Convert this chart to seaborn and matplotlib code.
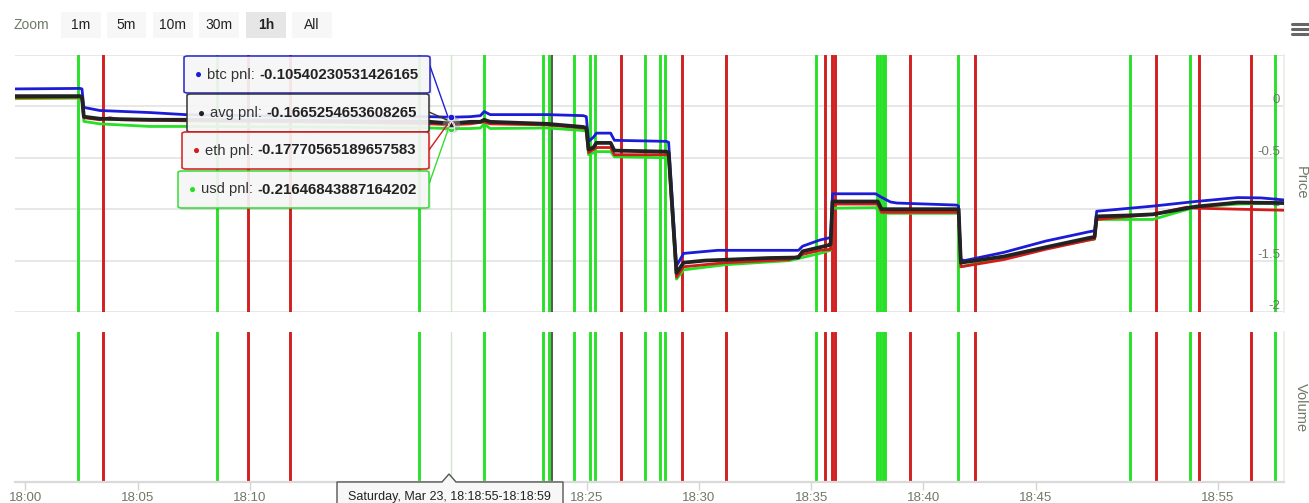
import numpy as np
import pandas as pd
import matplotlib
matplotlib.use("Agg")
import matplotlib.pyplot as plt
import matplotlib.transforms as mtransforms
from matplotlib.patches import FancyBboxPatch, Polygon, Rectangle
from matplotlib.lines import Line2D
import seaborn as sns

# ---------------- data ----------------
btc_time = ['17:59:32', '18:02:26', '18:02:31', '18:02:36', '18:03:19', '18:05:33', '18:07:07', '18:10:00',
            '18:14:28', '18:18:02', '18:18:57', '18:19:49', '18:20:16', '18:20:26', '18:20:42', '18:23:15',
            '18:24:51', '18:24:59', '18:25:05', '18:25:18', '18:25:26', '18:26:04', '18:26:14', '18:27:24',
            '18:28:33', '18:28:39', '18:29:00', '18:29:05', '18:29:19', '18:30:50', '18:34:26', '18:34:37',
            '18:35:23', '18:35:47', '18:35:52', '18:35:57', '18:37:52', '18:38:06', '18:38:32', '18:38:49',
            '18:41:29', '18:41:34', '18:41:40', '18:41:50', '18:43:35', '18:45:33', '18:47:55', '18:48:14',
            '18:48:21', '18:51:26', '18:53:47', '18:56:06', '18:57:22', '18:58:38']
btc_pnl = [0.17, 0.175, 0.17, -0.01, -0.04, -0.06, -0.08, -0.09, -0.10, -0.10, -0.10540230531426165, -0.10,
           -0.09, -0.05, -0.08, -0.08, -0.09, -0.10, -0.34, -0.30, -0.26, -0.26, -0.33, -0.335, -0.34, -0.35,
           -1.55, -1.52, -1.43, -1.40, -1.40, -1.36, -1.30, -1.28, -1.27, -0.85, -0.85, -0.88, -0.93, -0.94,
           -0.96, -0.97, -1.49, -1.50, -1.42, -1.31, -1.22, -1.21, -1.02, -0.97, -0.925, -0.887, -0.89, -0.91]

avg_time = ['17:59:32', '18:02:26', '18:02:31', '18:02:36', '18:03:19', '18:05:33', '18:07:07', '18:12:14',
            '18:18:02', '18:18:57', '18:19:49', '18:20:16', '18:20:26', '18:20:42', '18:23:15', '18:24:51',
            '18:24:59', '18:25:05', '18:25:18', '18:25:26', '18:26:04', '18:26:14', '18:28:33', '18:28:39',
            '18:29:00', '18:29:19', '18:30:15', '18:33:06', '18:34:26', '18:34:37', '18:35:47', '18:35:52',
            '18:35:57', '18:37:58', '18:38:08', '18:41:34', '18:41:40', '18:43:35', '18:45:33', '18:47:55',
            '18:48:14', '18:48:21', '18:50:13', '18:51:26', '18:53:47', '18:56:06', '18:58:38']
avg_pnl = [0.10, 0.10, 0.09, -0.10, -0.12, -0.13, -0.13, -0.14, -0.15, -0.1665254653608265, -0.15, -0.15,
           -0.13, -0.15, -0.17, -0.20, -0.21, -0.42, -0.40, -0.355, -0.355, -0.43, -0.44, -0.45, -1.62, -1.52,
           -1.50, -1.475, -1.47, -1.41, -1.35, -1.34, -0.925, -0.925, -1.0, -1.0, -1.52, -1.46, -1.37, -1.28,
           -1.27, -1.07, -1.06, -1.05, -0.975, -0.935, -0.94]

eth_time = ['17:59:32', '18:02:26', '18:02:31', '18:02:36', '18:03:19', '18:03:46', '18:04:13', '18:07:07',
            '18:12:14', '18:18:02', '18:18:57', '18:19:49', '18:20:26', '18:20:42', '18:23:15', '18:24:51',
            '18:24:59', '18:25:05', '18:25:26', '18:26:04', '18:26:14', '18:28:33', '18:28:39', '18:29:00',
            '18:29:19', '18:31:11', '18:34:02', '18:34:37', '18:35:23', '18:35:52', '18:35:57', '18:37:58',
            '18:38:08', '18:41:34', '18:41:40', '18:43:35', '18:45:33', '18:47:55', '18:48:14', '18:48:21',
            '18:51:26', '18:53:18', '18:53:47', '18:56:06', '18:58:38']
eth_pnl = [0.085, 0.09, 0.08, -0.11, -0.13, -0.11, -0.13, -0.14, -0.15, -0.17, -0.17770565189657583, -0.17,
           -0.15, -0.17, -0.18, -0.21, -0.22, -0.45, -0.40, -0.40, -0.47, -0.47, -0.48, -1.66, -1.56, -1.52,
           -1.49, -1.44, -1.40, -1.39, -0.95, -0.95, -1.03, -1.03, -1.56, -1.49, -1.39, -1.30, -1.29, -1.10,
           -1.05, -0.98, -0.99, -1.0, -1.01]

usd_time = ['17:59:32', '18:02:26', '18:02:31', '18:02:36', '18:03:19', '18:05:33', '18:07:07', '18:12:14',
            '18:18:02', '18:18:57', '18:19:49', '18:20:16', '18:20:26', '18:20:42', '18:23:15', '18:24:51',
            '18:24:59', '18:25:05', '18:25:26', '18:26:04', '18:26:14', '18:28:33', '18:28:39', '18:29:00',
            '18:29:19', '18:31:11', '18:34:02', '18:35:23', '18:35:52', '18:35:57', '18:37:52', '18:38:08',
            '18:41:34', '18:41:40', '18:43:35', '18:45:33', '18:47:55', '18:48:14', '18:48:21', '18:51:26',
            '18:52:35', '18:53:47', '18:56:06', '18:58:38']
usd_pnl = [0.075, 0.08, 0.07, -0.146, -0.17, -0.195, -0.195, -0.20, -0.21, -0.21646843887164202, -0.215, -0.21,
           -0.17, -0.215, -0.21, -0.235, -0.24, -0.47, -0.44, -0.44, -0.49, -0.50, -0.51, -1.68, -1.59, -1.54,
           -1.50, -1.43, -1.40, -0.99, -0.985, -1.04, -1.04, -1.56, -1.47, -1.38, -1.30, -1.29, -1.10, -1.10,
           -1.04, -0.98, -0.95, -0.94]

buy_signal_times = ['18:02:20', '18:08:32', '18:17:33', '18:20:26', '18:23:04', '18:23:20', '18:24:27',
                    '18:25:10', '18:25:21', '18:27:37', '18:28:17', '18:28:28', '18:35:12', '18:37:55',
                    '18:38:03', '18:38:11', '18:38:16', '18:41:32', '18:50:10', '18:53:28', '18:58:08']
sell_signal_times = ['18:03:27', '18:09:55', '18:11:47', '18:26:33', '18:29:16', '18:31:11', '18:35:36',
                     '18:35:55', '18:36:03', '18:39:23', '18:42:17', '18:51:36', '18:53:57', '18:56:49']
other_signal_times = ['18:23:26']

hover_time = '18:18:57'
hover_label = 'Saturday, Mar 23, 18:18:55-18:18:59'
series_names = ['usd', 'eth', 'btc', 'avg']
tooltip_order = ['btc', 'avg', 'eth', 'usd']

# 18:15 and 18:20 sit under the time tooltip in the reference, so they carry no visible label
xtick_times = ['18:00', '18:05', '18:10', '18:15', '18:20', '18:25', '18:30', '18:35', '18:40', '18:45', '18:55']
xtick_labels = ['18:00', '18:05', '18:10', '', '', '18:25', '18:30', '18:35', '18:40', '18:45', '18:55']
price_ticks = [-2, -1.5, -1, -0.5, 0, 0.5]
price_tick_labels = ['-2', '-1.5', '-1', '-0.5', '0', '']
zoom_buttons = ['1m', '5m', '10m', '30m', '1h', 'All']
selected_button = '1h'


def tmin(s):
    parts = [int(p) for p in s.split(':')]
    if len(parts) == 2:
        parts.append(0)
    h, m, sec = parts
    return (h - 18) * 60 + m + sec / 60.0


# ---------------- style ----------------
sns.set_theme(style="white")
plt.rcParams['font.family'] = ['Liberation Sans', 'DejaVu Sans']
plt.rcParams['axes.unicode_minus'] = False

W, H = 1309, 503
fig = plt.figure(figsize=(W / 100, H / 100), dpi=100)
fig.patch.set_facecolor('white')


def P(x, y):
    return (x / W, 1 - y / H)


colors = {'btc': '#1c1cd8', 'avg': '#222222', 'eth': '#d41b1b', 'usd': '#25e025'}
widths = {'btc': 2.0, 'avg': 2.7, 'eth': 2.0, 'usd': 2.0}
series = {
    'btc': (btc_time, btc_pnl),
    'avg': (avg_time, avg_pnl),
    'eth': (eth_time, eth_pnl),
    'usd': (usd_time, usd_pnl),
}
buy_color = '#29e029'
sell_color = '#d21f1f'
label_color = '#6f7a66'

left, right = 15, 1284
ax_p = fig.add_axes([left / W, (H - 312) / H, (right - left) / W, (312 - 55) / H])
ax_v = fig.add_axes([left / W, (H - 482) / H, (right - left) / W, (482 - 332) / H])


def fwd(m):
    m = np.asarray(m, dtype=float)
    return np.where(m <= 45, m * 22.43, 45 * 22.43 + (m - 45) * 18.2)


def inv(p):
    p = np.asarray(p, dtype=float)
    return np.where(p <= 45 * 22.43, p / 22.43, 45 + (p - 45 * 22.43) / 18.2)


xmin, xmax = tmin(btc_time[0]), tmin(btc_time[-1])

# signal lines in both panes
for ax in (ax_p, ax_v):
    for t in buy_signal_times:
        ax.axvline(tmin(t), color=buy_color, lw=2.1, zorder=1)
    for t in sell_signal_times:
        ax.axvline(tmin(t), color=sell_color, lw=2.1, zorder=1)
    for t in other_signal_times:
        ax.axvline(tmin(t), color='#3a3a3a', lw=1.2, zorder=1)
    ax.axvline(tmin(hover_time), color='#cfe6c8', lw=1.0, zorder=0.9)

# price series
for name in series_names:
    t, v = series[name]
    df = pd.DataFrame({'minute': [tmin(s) for s in t], 'pnl': v})
    sns.lineplot(data=df, x='minute', y='pnl', color=colors[name], linewidth=widths[name],
                 estimator=None, sort=False, ax=ax_p, legend=False, zorder=3)

# hover markers
hx = tmin(hover_time)
ax_p.scatter([hx], [series['avg'][1][series['avg'][0].index(hover_time)]], s=160, color='#9a9a9a',
             alpha=0.45, zorder=4, linewidths=0)
for name in series_names:
    t, v = series[name]
    ax_p.scatter([hx], [v[t.index(hover_time)]], s=22, color=colors[name], zorder=5,
                 edgecolors='white', linewidths=0.6, marker='^' if name == 'avg' else 'o')

for ax in (ax_p, ax_v):
    ax.set_xscale('function', functions=(fwd, inv))
    ax.set_xlim(xmin, xmax)
    for sp in ax.spines.values():
        sp.set_visible(False)
    ax.set_xlabel('')
    ax.set_ylabel('')
    ax.set_facecolor('none')

# price axis: gridlines from ticks, labels drawn inside the plot on the right
ax_p.set_ylim(-2.0, 0.5)
ax_p.set_yticks(price_ticks)
ax_p.yaxis.grid(True, color='#e3e3e3', lw=1.2, zorder=0)
ax_p.set_axisbelow(True)
ax_p.set_xticks([])
ax_p.tick_params(axis='y', which='both', left=False, right=False, labelleft=False, labelright=False)
ytrans = mtransforms.blended_transform_factory(ax_p.transAxes, ax_p.transData)
for v, lab in zip(price_ticks, price_tick_labels):
    ax_p.text(1 - 4 / (right - left), v, lab, transform=ytrans, ha='right', va='bottom',
              fontsize=9.5, color=label_color, zorder=2)
ax_p.spines['right'].set_visible(True)
ax_p.spines['right'].set_color('#e9eee6')

# volume axis
ax_v.set_ylim(0, 1)
ax_v.set_yticks([])
ax_v.set_xticks([tmin(t) for t in xtick_times])
ax_v.set_xticklabels(xtick_labels)
ax_v.spines['bottom'].set_visible(True)
ax_v.spines['bottom'].set_color('#dadada')
ax_v.spines['bottom'].set_linewidth(1.6)
ax_v.spines['right'].set_visible(True)
ax_v.spines['right'].set_color('#e9eee6')
ax_v.tick_params(axis='x', bottom=True, length=6, width=1, color='#d5d5d5', pad=1.5,
                 labelsize=9.5, labelcolor=label_color)

# axis titles
fig.text(*P(1301, 183), 'Price', rotation=270, ha='center', va='center', fontsize=10.5, color=label_color)
fig.text(*P(1301, 408), 'Volume', rotation=270, ha='center', va='center', fontsize=10.5, color=label_color)

# zoom bar
fig.text(*P(14, 25), 'Zoom', ha='left', va='center', fontsize=10, color=label_color)
btn_x = [(61, 101), (107, 146), (153, 193), (199, 239), (246, 286), (292, 332)]
for lab, (x0, x1) in zip(zoom_buttons, btn_x):
    sel = lab == selected_button
    fig.add_artist(Rectangle(P(x0, 38), (x1 - x0) / W, 26 / H, transform=fig.transFigure,
                             facecolor='#e6e6e6' if sel else '#f7f7f7', edgecolor='none'))
    fig.text(*P((x0 + x1) / 2, 25), lab, ha='center', va='center', fontsize=10, color='#222222',
             fontweight='bold' if sel else 'normal')

# hamburger menu
for yy in (24, 29, 34):
    fig.add_artist(Line2D([1292 / W, 1309 / W], [1 - yy / H, 1 - yy / H], transform=fig.transFigure,
                          color='#666666', lw=2.2))

# tooltips
boxes = {
    'btc': (184, 56, 430, 93),
    'avg': (187, 94, 429, 132),
    'eth': (182, 132, 429, 169),
    'usd': (178, 171, 429, 208),
}
edge = {'btc': '#2222cc', 'avg': '#333333', 'eth': '#d41b1b', 'usd': '#33dd33'}
conn = {
    'btc': ((430, 66), (448, 117)),
    'avg': ((429, 112), (447, 120)),
    'eth': ((429, 150), (447, 125)),
    'usd': ((429, 184), (449, 127)),
}
for name in tooltip_order:
    (a, b) = conn[name]
    fig.add_artist(Line2D([a[0] / W, b[0] / W], [1 - a[1] / H, 1 - b[1] / H], transform=fig.transFigure,
                          color=edge[name], lw=1.0, zorder=5))

fig.canvas.draw()
renderer = fig.canvas.get_renderer()
for name in tooltip_order:
    x0, y0, x1, y1 = boxes[name]
    fig.add_artist(FancyBboxPatch(P(x0 + 2, y1 + 2), (x1 - x0) / W, (y1 - y0) / H,
                                  boxstyle='round,pad=0,rounding_size=0.003', transform=fig.transFigure,
                                  facecolor='#000000', alpha=0.08, edgecolor='none', zorder=5))
    fig.add_artist(FancyBboxPatch(P(x0, y1), (x1 - x0) / W, (y1 - y0) / H,
                                  boxstyle='round,pad=0,rounding_size=0.003', transform=fig.transFigure,
                                  facecolor='#f7f7f7', alpha=0.92, edgecolor=edge[name], lw=1.2, zorder=6))
    yc = (y0 + y1) / 2
    fig.text(*P(x0 + 11, yc + 0.5), '\u25cf', ha='left', va='center', fontsize=8.5, color=colors[name],
             zorder=7)
    t1 = fig.text(*P(x0 + 23, yc), f'{name} pnl:', ha='left', va='center', fontsize=10.6, color='#333333',
                  zorder=7)
    bb = t1.get_window_extent(renderer)
    t, v = series[name]
    val = v[t.index(hover_time)]
    fig.text((bb.x1 + 4) / W, 1 - yc / H, f'{val}', ha='left', va='center', fontsize=10.8,
             color='#222222', fontweight='bold', zorder=7)

# bottom time tooltip
fig.add_artist(Polygon([P(337, 515), P(337, 482), P(442, 482), P(449, 474), P(456, 482),
                        P(563, 482), P(563, 515)], closed=True, transform=fig.transFigure,
                       facecolor='#f7f7f7', edgecolor='#555555', lw=1.0, zorder=6))
fig.text(*P(449, 497), hover_label, ha='center', va='center', fontsize=9, color='#222222', zorder=7)

fig.savefig('out.png', dpi=100, facecolor='white')
